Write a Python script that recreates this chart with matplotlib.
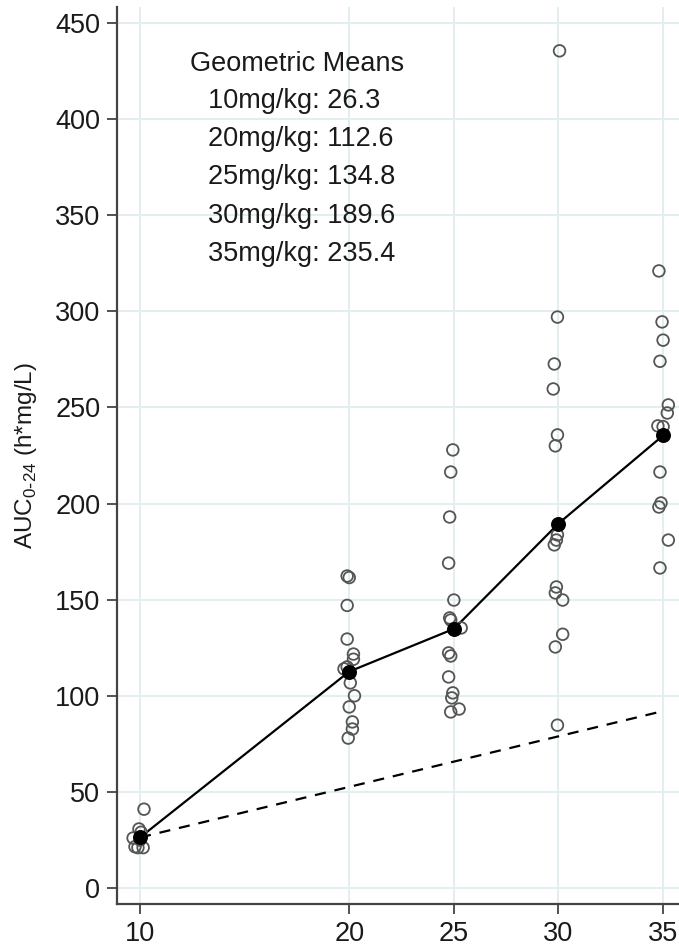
import matplotlib
matplotlib.use("Agg")
import matplotlib.pyplot as plt

plt.rcParams['font.family'] = ['Liberation Sans', 'DejaVu Sans']

# ---- data ----
doses = [10, 20, 25, 30, 35]
geo_means = [26.3, 112.6, 134.8, 189.6, 235.4]
prop_dose = [10, 35]
prop_auc = [26.3, 92.05]

x10 = [10.19, 9.95, 10.05, 9.67, 10.0, 9.76, 9.9, 10.15]
y10 = [41, 30.7, 29, 26, 25, 21.5, 21, 21]

x20 = [19.9, 20.0, 19.9, 19.9, 20.2, 20.2, 19.9, 19.75, 20.05, 20.25, 20.0, 20.15, 20.15, 19.95]
y20 = [162.3, 161.5, 147, 129.5, 121.7, 119, 115, 114, 106.7, 100, 94.2, 86.4, 82.7, 78]

x25 = [24.95, 24.85, 24.8, 24.75, 25.0, 24.8, 24.85, 25.35, 24.75, 24.85, 24.75, 24.95, 24.9, 25.25, 24.85]
y25 = [227.9, 216.4, 193, 169, 149.8, 140.5, 139.4, 135.3, 122.3, 120.7, 109.8, 101.5, 98.9, 93.1, 91.6]

x30 = [30.05, 29.95, 29.8, 29.75, 29.95, 29.85, 29.95, 29.9, 29.8, 29.9, 29.85, 30.2, 30.2, 29.85, 29.95]
y30 = [435.5, 297, 272.6, 259.6, 235.7, 230, 183.7, 181, 178.5, 156.6, 153.5, 149.8, 132, 125.4, 84.7]

x35 = [34.8, 34.95, 35.0, 34.85, 35.25, 35.2, 34.75, 35.0, 34.85, 34.9, 34.8, 35.25, 34.85]
y35 = [321, 294.5, 285, 274, 251.3, 247.1, 240.4, 240, 216.4, 200.3, 198.2, 181, 166.5]

xticks = [10, 20, 25, 30, 35]
yticks = [0, 50, 100, 150, 200, 250, 300, 350, 400, 450]
title_text = "Geometric Means"
mean_labels = ["%dmg/kg: %.1f" % (d, m) for d, m in zip(doses, geo_means)]

# ---- figure ----
W, H = 679, 947
fig = plt.figure(figsize=(W / 100, H / 100), dpi=100)
ax_l, ax_b, ax_t = 117, 904, 7
ax = fig.add_axes([ax_l / W, 1 - ax_b / H, 1 - ax_l / W, (ax_b - ax_t) / H])

grid_c = '#e3eef1'
for t in yticks:
    ax.axhline(t, color=grid_c, lw=1.4, zorder=0)
for t in xticks:
    ax.axvline(t, color=grid_c, lw=1.4, zorder=0)

ax.plot(prop_dose, prop_auc, ls=(0, (5, 4)), color='black', lw=1.6, zorder=2)
ax.plot(doses, geo_means, color='black', lw=1.6, zorder=2)

for xs, ys in [(x10, y10), (x20, y20), (x25, y25), (x30, y30), (x35, y35)]:
    ax.scatter(xs, ys, s=70, facecolors='none', edgecolors='#555555', linewidths=1.3, zorder=3)

ax.scatter(doses, geo_means, s=95, color='black', zorder=4)

ax.set_xlim(8.9, 35.76)
ax.set_ylim(-8.32, 458.3)
ax.set_xticks(xticks)
ax.set_yticks(yticks)
ax.tick_params(direction='out', length=7, width=1.2, color='#333333',
               labelsize=19.5, labelcolor='#1a1a1a', pad=5)
for s in ['top', 'right']:
    ax.spines[s].set_visible(False)
for s in ['left', 'bottom']:
    ax.spines[s].set_color('#444444')
    ax.spines[s].set_linewidth(1.6)

ax.set_ylabel(r'AUC$_{\mathregular{0\text{-}24}}$ (h*mg/L)', fontsize=17.5, color='#1a1a1a')
ax.yaxis.set_label_coords((39 - ax_l) / (W - ax_l), 0.5)

# text block (positions in data coords derived from axes scale)
def px_to_data(px, py):
    inv = ax.transData.inverted()
    return inv.transform((px, H - py))

fig.canvas.draw()
tx, ty = px_to_data(297, 64)
ax.text(tx, ty, title_text, ha='center', va='center', fontsize=19.5, color='#1a1a1a')
for i, lab in enumerate(mean_labels):
    lx, ly = px_to_data(208, 101 + i * 38.2)
    ax.text(lx, ly, lab, ha='left', va='center', fontsize=19.5, color='#1a1a1a')

fig.savefig('out.png', dpi=100)
